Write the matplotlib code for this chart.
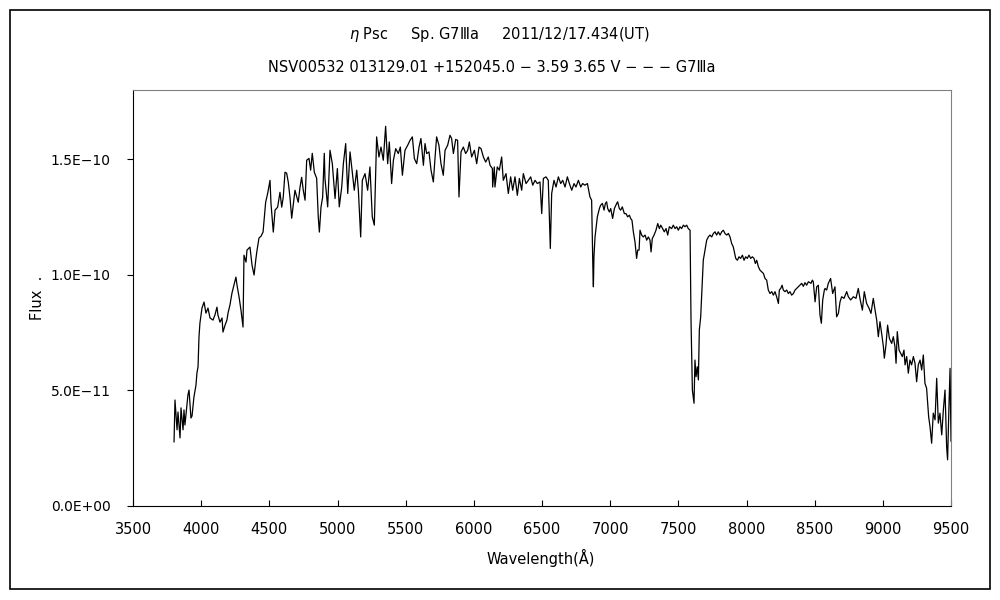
import numpy as np
import matplotlib
matplotlib.use("Agg")
import matplotlib.pyplot as plt
from matplotlib.patches import Rectangle

plt.rcParams['font.family'] = ['DejaVu Sans', 'Noto Sans CJK JP']

# spectrum: wavelength (A), flux (in units of 1e-10)
wavelength = [
    3801, 3808, 3823, 3830, 3845, 3852, 3867, 3874, 3881, 3896, 3903, 3911, 3925, 3933, 3947, 3962,
    3969, 3977, 3984, 3991, 4006, 4021, 4035, 4050, 4065, 4087, 4101, 4116, 4123, 4138, 4153, 4160,
    4175, 4189, 4197, 4211, 4226, 4240, 4255, 4263, 4278, 4292, 4307, 4314, 4329, 4336, 4358, 4373,
    4388, 4402, 4410, 4424, 4439, 4454, 4473, 4488, 4505, 4512, 4529, 4542, 4561, 4578, 4591, 4602,
    4615, 4627, 4639, 4652, 4664, 4688, 4712, 4725, 4737, 4749, 4762, 4774, 4791, 4803, 4815, 4830,
    4847, 4859, 4867, 4879, 4891, 4903,
    4908, 4928, 4945, 4962, 4982, 4999, 5013, 5031, 5043, 5060, 5075, 5092, 5104, 5123, 5141, 5153,
    5170, 5182, 5202, 5221, 5238, 5255, 5270, 5287, 5304, 5319, 5336, 5353, 5368, 5380, 5397, 5410,
    5427, 5446, 5461, 5476, 5495, 5515, 5532, 5549, 5564, 5581, 5598, 5612, 5630, 5642, 5654, 5671,
    5686, 5703, 5715, 5727, 5744, 5759, 5776, 5789, 5808, 5825, 5837, 5850, 5867, 5881, 5891, 5906,
    5923, 5940, 5955, 5967, 5984, 6004, 6021, 6038, 6053, 6070, 6087, 6106, 6119, 6136, 6138, 6150,
    6155, 6172, 6187, 6204, 6216, 6236, 6253, 6270, 6285, 6302, 6319, 6334, 6351, 6363, 6383, 6400,
    6417, 6432, 6449, 6466, 6485, 6498, 6510, 6529, 6546, 6561, 6571, 6588, 6603, 6620, 6637, 6652,
    6669, 6686, 6701, 6718, 6735, 6749, 6767, 6784, 6798, 6815, 6833,
    6840, 6852, 6864, 6869, 6874, 6877, 6881, 6889, 6896, 6906, 6921, 6930, 6943, 6955, 6965, 6974,
    6982, 6994, 7004, 7018, 7031, 7048, 7055, 7067, 7077, 7089, 7104, 7116, 7128, 7141, 7150, 7160,
    7170, 7182, 7194, 7202, 7212, 7219, 7231, 7243, 7256, 7268, 7280, 7292, 7300, 7309, 7322, 7336,
    7349, 7361, 7371, 7385, 7397, 7410, 7422, 7434, 7451, 7463, 7476, 7488, 7500, 7512, 7524, 7537,
    7549, 7561, 7573, 7586, 7593, 7603, 7615, 7622, 7630, 7639, 7647, 7654, 7664, 7674, 7683, 7696,
    7708, 7720, 7732, 7745, 7757, 7769, 7781, 7793, 7806, 7818, 7830, 7842, 7855, 7867, 7879, 7891,
    7903, 7911, 7921, 7933, 7945, 7957, 7970, 7982, 7994, 8006, 8018, 8031, 8043, 8055, 8065, 8075,
    8087, 8099, 8111, 8124, 8136, 8148, 8160, 8172, 8185, 8197, 8209, 8221, 8234, 8241, 8251, 8261,
    8270, 8282, 8295, 8307, 8319, 8331, 8344, 8356, 8368, 8380, 8392, 8405, 8417, 8429, 8441, 8454,
    8473, 8483, 8490, 8503, 8515, 8527, 8539, 8549, 8559, 8571,
    8576, 8588, 8600, 8617, 8632, 8649, 8661, 8674, 8686, 8698, 8715, 8735, 8747, 8764, 8784, 8803,
    8820, 8832, 8850, 8864, 8881, 8899, 8913, 8930, 8943, 8955, 8967, 8979, 8991, 9004, 9011, 9023,
    9035, 9048, 9065, 9077, 9089, 9097, 9106, 9119, 9131, 9143, 9155, 9163, 9175, 9187, 9199, 9211,
    9224, 9236, 9248, 9260, 9273, 9285, 9297, 9309, 9321, 9329, 9336, 9346, 9358, 9370, 9383, 9395,
    9407, 9419, 9432, 9444, 9456, 9468, 9475, 9483, 9493, 9500,
]
flux = [
    0.277, 0.458, 0.329, 0.406, 0.294, 0.424, 0.329, 0.415, 0.350, 0.437, 0.480, 0.501, 0.380, 0.389, 0.471, 0.523,
    0.575, 0.601, 0.731, 0.791, 0.856, 0.882, 0.834, 0.856, 0.813, 0.804, 0.826, 0.860, 0.826, 0.795, 0.813, 0.752,
    0.782, 0.804, 0.834, 0.869, 0.921, 0.955, 0.990, 0.955, 0.904, 0.847, 0.774, 1.085, 1.055, 1.107, 1.120, 1.042,
    0.999, 1.072, 1.107, 1.159, 1.167, 1.185, 1.314, 1.353, 1.409, 1.310, 1.185, 1.280, 1.293, 1.357, 1.293, 1.336,
    1.444, 1.440, 1.401, 1.331, 1.245, 1.366, 1.314, 1.379, 1.422, 1.366, 1.323, 1.496, 1.504, 1.453, 1.526, 1.444,
    1.418, 1.249, 1.185, 1.293, 1.336, 1.526,
    1.417, 1.294, 1.539, 1.481, 1.330, 1.460, 1.294, 1.380, 1.481, 1.568, 1.352, 1.532, 1.467, 1.366, 1.453, 1.366,
    1.164, 1.409, 1.438, 1.366, 1.467, 1.251, 1.215, 1.597, 1.510, 1.553, 1.496, 1.643, 1.481, 1.575, 1.395, 1.496,
    1.546, 1.525, 1.553, 1.431, 1.539, 1.561, 1.582, 1.597, 1.503, 1.481, 1.553, 1.590, 1.474, 1.568, 1.525, 1.532,
    1.453, 1.402, 1.503, 1.597, 1.561, 1.481, 1.431, 1.539, 1.561, 1.604, 1.590, 1.525, 1.586, 1.582, 1.337, 1.532,
    1.553, 1.525, 1.539, 1.575, 1.510, 1.539, 1.481, 1.553, 1.546, 1.510, 1.488, 1.510, 1.474, 1.460, 1.380, 1.467,
    1.380, 1.467, 1.453, 1.510, 1.409, 1.438, 1.352, 1.424, 1.366, 1.424, 1.344, 1.417, 1.366, 1.438, 1.395, 1.409,
    1.424, 1.388, 1.409, 1.395, 1.402, 1.265, 1.417, 1.424, 1.409, 1.114, 1.352, 1.409, 1.380, 1.424, 1.395, 1.409,
    1.380, 1.424, 1.395, 1.366, 1.395, 1.380, 1.409, 1.380, 1.395, 1.388, 1.395,
    1.373, 1.337, 1.323, 1.164, 1.006, 0.948, 1.078, 1.164, 1.200, 1.251, 1.287, 1.301, 1.309, 1.280, 1.309, 1.316,
    1.287, 1.272, 1.287, 1.244, 1.287, 1.309, 1.316, 1.287, 1.280, 1.294, 1.265, 1.265, 1.251, 1.258, 1.244, 1.236,
    1.186, 1.143, 1.071, 1.107, 1.107, 1.193, 1.172, 1.164, 1.172, 1.150, 1.164, 1.150, 1.099, 1.157, 1.172, 1.193,
    1.222, 1.200, 1.215, 1.200, 1.186, 1.200, 1.172, 1.208, 1.200, 1.215, 1.200, 1.208, 1.193, 1.208, 1.200, 1.215,
    1.208, 1.215, 1.200, 1.193, 0.804, 0.501, 0.444, 0.631, 0.559, 0.602, 0.545, 0.761, 0.818, 0.948, 1.063, 1.107,
    1.150, 1.164, 1.172, 1.164, 1.179, 1.186, 1.172, 1.186, 1.172, 1.186, 1.193, 1.179, 1.172, 1.179, 1.164, 1.136,
    1.121, 1.099, 1.071, 1.063, 1.078, 1.071, 1.085, 1.063, 1.078, 1.071, 1.085, 1.071, 1.078, 1.071, 1.049, 1.063,
    1.035, 1.020, 1.013, 1.006, 0.984, 0.977, 0.934, 0.919, 0.927, 0.912, 0.927, 0.905, 0.876, 0.934, 0.941, 0.955,
    0.934, 0.927, 0.934, 0.919, 0.927, 0.912, 0.919, 0.934, 0.941, 0.948, 0.955, 0.963, 0.950, 0.966, 0.955, 0.970,
    0.963, 0.977, 0.970, 0.883, 0.948, 0.955, 0.826, 0.790, 0.891, 0.934,
    0.941, 0.934, 0.963, 0.984, 0.919, 0.948, 0.818, 0.833, 0.883, 0.905, 0.898, 0.927, 0.905, 0.891, 0.905, 0.898,
    0.941, 0.898, 0.847, 0.927, 0.876, 0.855, 0.833, 0.898, 0.847, 0.804, 0.732, 0.797, 0.747, 0.689, 0.639, 0.696,
    0.782, 0.725, 0.703, 0.732, 0.689, 0.617, 0.754, 0.674, 0.660, 0.646, 0.674, 0.610, 0.646, 0.574, 0.631, 0.610,
    0.646, 0.617, 0.537, 0.610, 0.631, 0.588, 0.653, 0.530, 0.509, 0.444, 0.386, 0.343, 0.271, 0.401, 0.372, 0.552,
    0.358, 0.401, 0.307, 0.415, 0.501, 0.256, 0.199, 0.386, 0.595, 0.280,
]

xticks = [3500, 4000, 4500, 5000, 5500, 6000, 6500, 7000, 7500, 8000, 8500, 9000, 9500]
yticks = [0.0, 5e-11, 1e-10, 1.5e-10]
ytick_labels = ["0.0E+00", "5.0E\u221211", "1.0E\u221210", "1.5E\u221210"]

title1 = "$\\eta$ Psc     Sp. G7\u2162a     2011/12/17.434(UT)"
title2 = "NSV00532 013129.01 +152045.0 \u2212 3.59 3.65 V \u2212 \u2212 \u2212 G7\u2162a"

wl = np.array(wavelength)
fl = np.array(flux) * 1e-10

fig = plt.figure(figsize=(10, 6), dpi=100)
ax = fig.add_axes([0.133, 0.157, 0.818, 0.693])
ax.plot(wl, fl, color='black', lw=0.9)

ax.set_xlim(3500, 9500)
ax.set_ylim(0, 1.8e-10)
ax.set_xticks(xticks)
ax.set_xticklabels([str(t) for t in xticks], fontsize=10.5)
ax.set_yticks(yticks)
ax.set_yticklabels(ytick_labels, fontsize=10)
ax.tick_params(axis='x', direction='in', length=4, pad=12)
ax.tick_params(axis='y', direction='out', length=4, pad=12)

for side in ['top', 'right']:
    ax.spines[side].set_color('#808080')
for side in ['left', 'bottom']:
    ax.spines[side].set_color('black')

fig.text(0.499, 0.942, title1, ha='center', va='center', fontsize=10.5)
fig.text(0.492, 0.888, title2, ha='center', va='center', fontsize=10.5)
fig.text(0.541, 0.07, "Wavelength(\u00c5)", ha='center', va='center', fontsize=10.5)
fig.text(0.037, 0.503, "Flux  .", ha='center', va='center', rotation=90, fontsize=10.5)

# outer frame around the whole chart
fig.patches.append(Rectangle((0.01, 0.018), 0.98, 0.965, transform=fig.transFigure,
                             fill=False, edgecolor='black', lw=1.2))

fig.savefig("out.png", dpi=100)
